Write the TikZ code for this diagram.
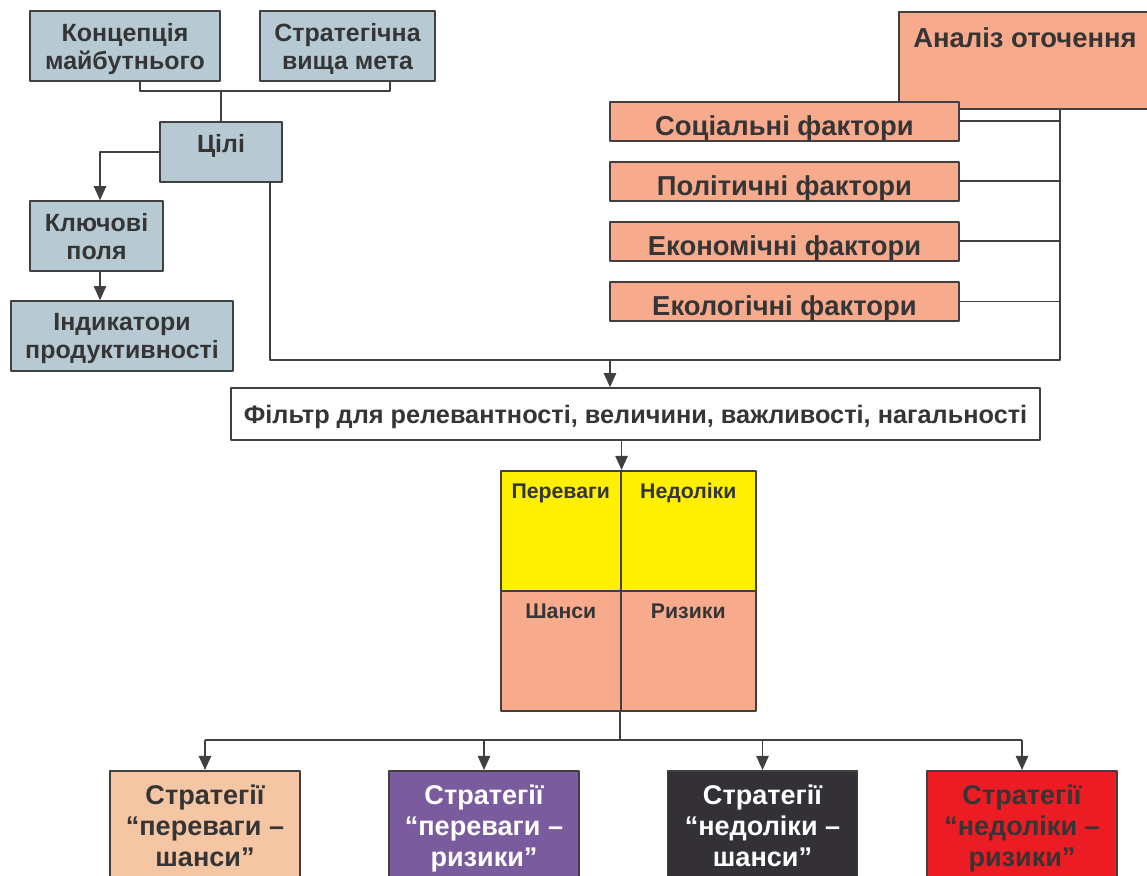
\documentclass[tikz,border=0pt]{standalone}
\usepackage{fontspec}
\setmainfont{Liberation Sans}
\usetikzlibrary{arrows.meta}
\definecolor{slate}{HTML}{B7CAD3}
\definecolor{salmon}{HTML}{F8AA8D}
\definecolor{lemon}{HTML}{FFF000}
\definecolor{peach}{HTML}{F5C6A4}
\definecolor{plum}{HTML}{7A5C9E}
\definecolor{coal}{HTML}{333135}
\definecolor{alarm}{HTML}{EC1C24}
\definecolor{ink}{HTML}{353535}
\definecolor{wire}{HTML}{404040}
\newcommand{\topfont}{\fontsize{14.2}{15.9}\selectfont\bfseries}
\newcommand{\bigfont}{\fontsize{15.6}{18}\selectfont\bfseries}
\newcommand{\midfont}{\fontsize{14.4}{17}\selectfont\bfseries}
\newcommand{\cellfont}{\fontsize{12.1}{14}\selectfont\bfseries}
\newcommand{\stratfont}{\fontsize{15.4}{17.6}\selectfont\bfseries}
\tikzset{
  every picture/.style={
    line join=round,
    >={Triangle[length=8pt,width=7pt]},   % filled heads on every arrow
  },
  box/.style={draw=wire, line width=0.9pt, inner sep=0pt, align=center, text=ink, text depth=0pt, font=\topfont},
  cell/.style={box, anchor=north west, minimum height=2.4cm, text height=0.56cm, text depth=1.84cm, font=\cellfont},
  link/.style={draw=wire, line width=0.9pt},
}

\begin{document}
\begin{tikzpicture}[x=0.02cm, y=-0.02cm]
    \useasboundingbox (0,0) rectangle (1147,876);

    % Goals (top left)
    \node[box, fill=slate, minimum width=3.8cm, minimum height=1.4cm] (konc) at (125,46) {Концепція\\майбутнього};
    \node[box, fill=slate, minimum width=3.5cm, minimum height=1.4cm] (strat) at (347.5,46) {Стратегічна\\вища мета};
    \node[box, fill=slate, anchor=north, minimum width=2.44cm, text height=0.62cm, text depth=0.58cm] (tsili) at (221,121) {Цілі};
    \node[box, fill=slate, minimum width=2.66cm, minimum height=1.4cm] (klyuch) at (96.5,236) {Ключові\\поля};
    \node[box, fill=slate, minimum width=4.44cm, minimum height=1.4cm] (indyk) at (122,336) {Індикатори\\продуктивності};

    \coordinate (join) at (221,91);
    \draw[link] ([xshift=0.3cm]konc.south) |- (join) -| ([xshift=0.85cm]strat.south);
    \draw[link] (join) -- (tsili.north);
    \draw[link,->] (tsili.west) -| ([xshift=0.07cm]klyuch.north);
    \draw[link,->] ([xshift=0.07cm]klyuch.south) -- ([xshift=0.07cm]klyuch.south |- indyk.north);

    % Environment (top right)
    \node[box, fill=salmon, anchor=north, minimum width=5.04cm, text height=0.72cm, text depth=1.22cm, font=\bigfont] (analiz) at (1025,11) {Аналіз оточення};
    \coordinate (spine) at (1060,360);
    \foreach \name/\y/\txt in {soc/101/Соціальні фактори, pol/161/Політичні фактори, eco/221/Економічні фактори, env/281/Екологічні фактори} {
        \node[box, fill=salmon, anchor=north, minimum width=6.98cm, text height=0.67cm, text depth=0.11cm, font=\bigfont] (\name) at (784.5,\y) {\txt};
        \draw[link] (\name.east) -- (\name.east -| spine);
    }

    % Both branches into the filter
    \coordinate (merge) at (610,360);
    \draw[link] ([xshift=0.98cm]tsili.south) |- (merge) -| (spine) -- (spine |- analiz.south);
    \node[box, fill=white, minimum width=16.18cm, minimum height=1.04cm, font=\midfont] (filter) at (635.5,414) {Фільтр для релевантності, величини, важливості, нагальності};
    \draw[link,->] (merge) -- (merge |- filter.north);

    % SWOT matrix
    \node[cell, fill=lemon, minimum width=2.4cm] (pe) at (500,470) {Переваги};
    \node[cell, fill=lemon, minimum width=2.7cm] (ne) at (620,470) {Недоліки};
    \node[cell, fill=salmon, minimum width=2.4cm] (sh) at (500,590) {Шанси};
    \node[cell, fill=salmon, minimum width=2.7cm] (ry) at (620,590) {Ризики};
    \draw[link,->] (filter.south -| pe.north east) -- (pe.north east);

    % Strategies
    \foreach \name/\x/\col/\tc/\txt in {s1/205/peach/ink/{переваги –\\шанси}, s2/484/plum/white/{переваги –\\ризики}, s3/762.5/coal/white/{недоліки –\\шанси}, s4/1022/alarm/ink/{недоліки –\\ризики}} {
        \node[box, fill=\col, text=\tc, anchor=north, minimum width=3.8cm, minimum height=2.2cm, font=\stratfont] (\name) at (\x,770) {Стратегії\\“\txt”};
    }
    \coordinate (bus) at (620,740);
    \draw[link] (bus |- sh.south) -- (bus);
    \draw[link] (s1.north |- bus) -- (s4.north |- bus);
    \foreach \s in {s1,s2,s3,s4}
        \draw[link,->] (\s.north |- bus) -- (\s.north);
\end{tikzpicture}
\end{document}
